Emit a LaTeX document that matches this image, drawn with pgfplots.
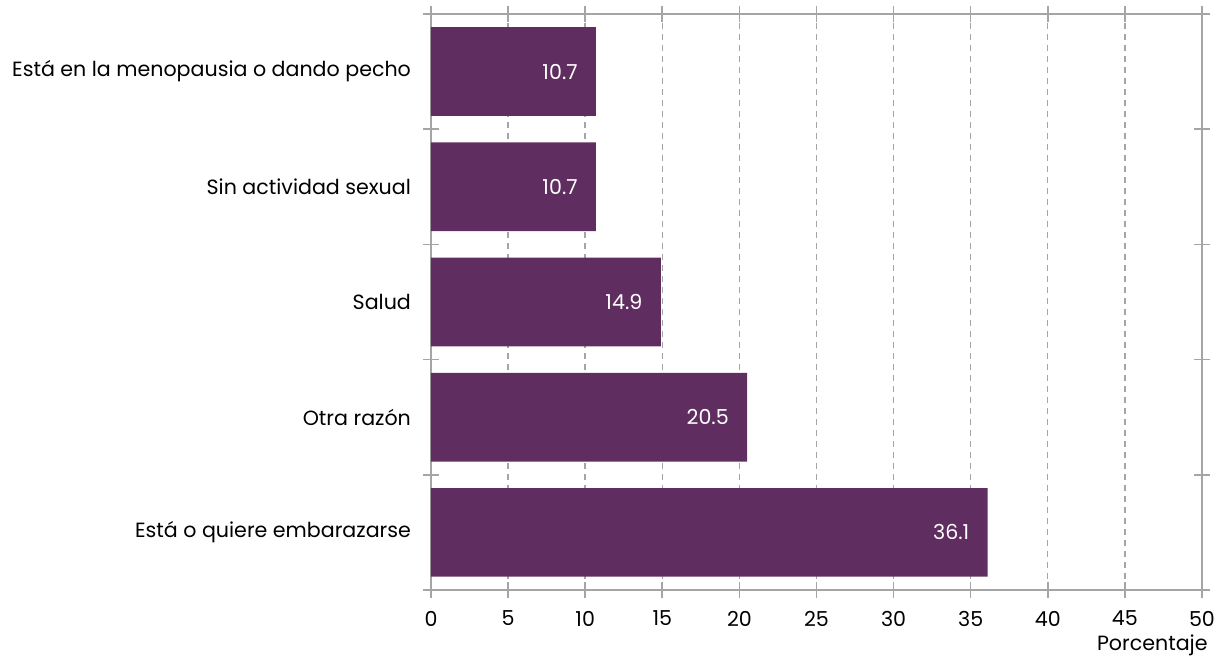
\documentclass[border=0pt]{standalone}
\usepackage{fontspec}
\setmainfont{Poppins}
\usepackage{pgfplots}
\pgfplotsset{compat=1.18}
\definecolor{barpurple}{RGB}{95,45,95}
\definecolor{axgray}{RGB}{165,165,165}
\begin{document}
\begin{tikzpicture}
\begin{axis}[
  scale only axis,
  width=385.5pt, height=288pt,
  xbar, bar width=0.77,
  xmin=0, xmax=50, ymin=-0.5, ymax=4.5,
  xtick={0,5,...,50},
  ytick={0,1,2,3,4},
  yticklabels={Está o quiere embarazarse, Otra razón, Salud, Sin actividad sexual, Está en la menopausia o dando pecho},
  minor ytick={-0.5,0.5,1.5,2.5,3.5,4.5},
  major tick length=8pt, minor tick length=8pt,
  tick align=center,
  ytick style={draw=none},
  minor y tick style={draw=axgray, line width=0.8pt},
  x tick style={draw=axgray, line width=0.8pt},
  axis line style={draw=axgray, line width=0.8pt},
  xmajorgrids,
  major x grid style={draw=axgray, dash pattern=on 3pt off 2.5pt, line width=0.7pt},
  tick label style={font=\fontsize{10.3}{12}\selectfont, text=black},
  /pgf/number format/assume math mode=true,
  yticklabel style={xshift=-2.5pt},
  xticklabel style={yshift=-3pt},
  nodes near coords,
  nodes near coords style={font=\fontsize{10.3}{12}\selectfont, text=white, anchor=east, inner sep=0pt, xshift=-9pt, /pgf/number format/fixed, /pgf/number format/fixed zerofill, /pgf/number format/precision=1},
  clip=false,
]
\addplot[fill=barpurple, draw=none] coordinates {(36.1,0) (20.5,1) (14.9,2) (10.7,3) (10.7,4)};
\end{axis}
\node[anchor=base east, font=\fontsize{10.3}{12}\selectfont, inner sep=0pt] at (388.5pt,-30.5pt) {Porcentaje};
\pgfresetboundingbox
\path[use as bounding box] (-215.5pt,-33pt) rectangle (393pt,295pt);
\end{tikzpicture}
\end{document}
